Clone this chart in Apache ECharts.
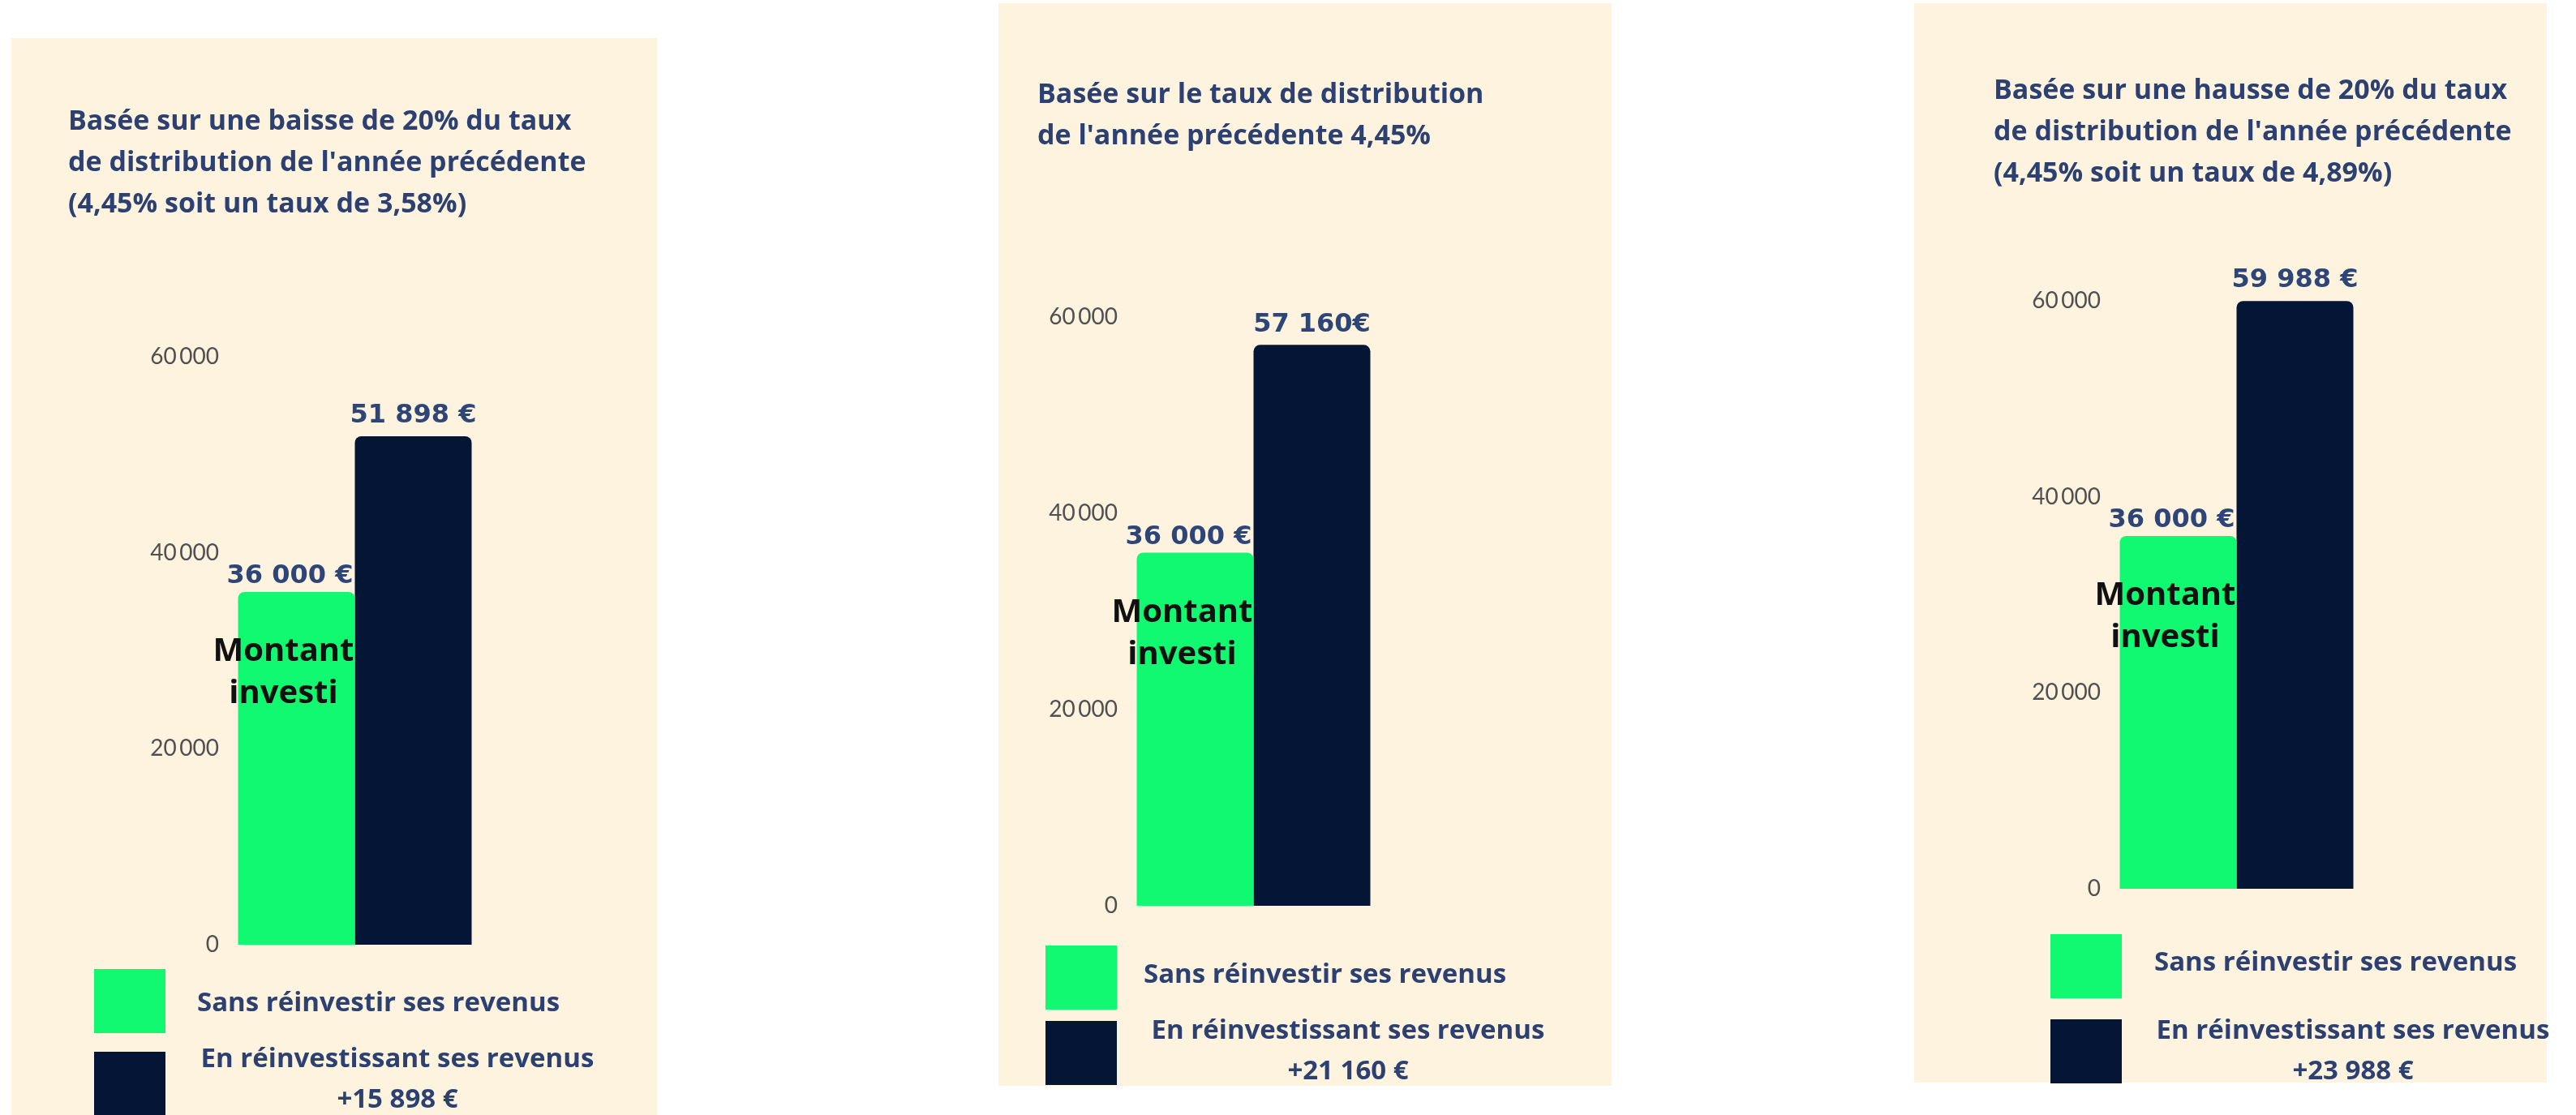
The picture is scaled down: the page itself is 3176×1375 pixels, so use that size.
<!DOCTYPE html>
<html>
<head>
<meta charset="utf-8">
<script src="https://cdn.jsdelivr.net/npm/echarts@6/dist/echarts.min.js"></script>
<style>
  html, body { margin: 0; padding: 0; background: #fff; }
  #chart { width: 3176px; height: 1375px; }
</style>
</head>
<body>
<div id="chart"></div>
<script>
  // --- data ---
  const titles = [
    "Basée sur une baisse de 20% du taux\nde distribution de l'année précédente\n(4,45% soit un taux de 3,58%)",
    "Basée sur le taux de distribution\nde l'année précédente 4,45%",
    "Basée sur une hausse de 20% du taux\nde distribution de l'année précédente\n(4,45% soit un taux de 4,89%)",
  ]
  const seriesNames = ['Sans réinvestir ses revenus', 'En réinvestissant ses revenus']
  const categories = ['Scénario']
  const invested = [36000, 36000, 36000]
  const reinvested = [51898, 57160, 59988]
  const euroGap = [' ', '', ' '] // as printed on the navy bars
  const yMin = 0
  const yMax = 60000
  const yStep = 20000
  const noteText = 'Montant\ninvesti'

  // --- styles / layout ---
  const GREEN = '#10f971'
  const NAVY = '#041536'
  const INK = '#2c4172'
  const CREAM = '#fef3de'
  const TXT_FONT = '"Open Sans", Lato, sans-serif'

  const panels = [
    { bg: [14, 47, 796, 1328], grid: { left: 293, top: 440, bottom: 210 }, title: [84, 125],
      sq: [116, 1195, 1297], sans: [243, 1238], en: [490, 1282] },
    { bg: [1231, 4, 756, 1335], grid: { left: 1401, top: 391, bottom: 258 }, title: [1279, 92],
      sq: [1289, 1166, 1259], sans: [1410, 1203], en: [1662, 1247] },
    { bg: [2360, 4, 780, 1331], grid: { left: 2613, top: 371, bottom: 279 }, title: [2458, 87],
      sq: [2528, 1152, 1257], sans: [2656, 1188], en: [2901, 1247] },
  ]

  function group(n, sep) {
    return String(n).replace(/\B(?=(\d{3})+(?!\d))/g, sep)
  }

  const valueLabel = {
    show: true,
    position: 'top',
    color: '#2d4677',
    fontFamily: '"DejaVu Sans", sans-serif',
    fontWeight: 'bold',
    fontSize: 32,
  }

  const option = {
    animation: false,
    backgroundColor: '#fff',
    title: [],
    grid: [],
    xAxis: [],
    yAxis: [],
    series: [],
    graphic: [],
  }

  panels.forEach((p, i) => {
    option.graphic.push({
      type: 'rect', z: -10, silent: true,
      shape: { x: p.bg[0], y: p.bg[1], width: p.bg[2], height: p.bg[3] },
      style: { fill: CREAM },
    })
    option.title.push({
      text: titles[i],
      left: p.title[0],
      top: p.title[1],
      padding: 0,
      textStyle: { color: INK, fontFamily: TXT_FONT, fontWeight: 'bold', fontSize: 34, lineHeight: 51 },
    })
    option.grid.push({ left: p.grid.left, top: p.grid.top, bottom: p.grid.bottom, width: 289, outerBoundsMode: 'none' })
    option.xAxis.push({ type: 'category', gridIndex: i, data: categories, show: false })
    option.yAxis.push({
      type: 'value', gridIndex: i, min: yMin, max: yMax, interval: yStep,
      splitLine: { show: false }, axisLine: { show: false }, axisTick: { show: false },
      axisLabel: {
        margin: 23, color: '#505050', fontFamily: 'Lato, sans-serif', fontSize: 28,
        formatter: (v) => group(v, '\u2009'),
      },
    })
    // green bar drawn above the navy one so its label stays visible
    option.series.push({
      name: seriesNames[0], type: 'bar', xAxisIndex: i, yAxisIndex: i, z: 3,
      data: [invested[i]], barWidth: 144, barGap: '0%',
      itemStyle: { color: GREEN, borderRadius: [8, 8, 0, 0] },
      label: { ...valueLabel, distance: 3, offset: [-8, 0], formatter: (d) => group(d.value, ' ') + ' €' },
      markPoint: {
        symbol: 'rect', symbolSize: 0, silent: true,
        data: [{ coord: [0, invested[i]] }],
        label: {
          show: true, position: 'inside', offset: [-16, 100], formatter: noteText,
          color: '#111', fontFamily: '"Open Sans", "Noto Sans", sans-serif', fontWeight: 'bold',
          fontSize: 40, lineHeight: 52, align: 'center',
        },
      },
    })
    option.series.push({
      name: seriesNames[1], type: 'bar', xAxisIndex: i, yAxisIndex: i, z: 2,
      data: [reinvested[i]], barWidth: 144, barGap: '0%',
      itemStyle: { color: NAVY, borderRadius: [8, 8, 0, 0] },
      label: { ...valueLabel, distance: 9, formatter: (d) => group(d.value, ' ') + euroGap[i] + '€' },
    })

    // legend blocks
    option.graphic.push(
      { type: 'rect', shape: { x: p.sq[0], y: p.sq[1], width: 88, height: 79 }, style: { fill: GREEN } },
      { type: 'rect', shape: { x: p.sq[0], y: p.sq[2], width: 88, height: 79 }, style: { fill: NAVY } },
      {
        type: 'text', x: p.sans[0], y: p.sans[1],
        style: {
          text: seriesNames[0], fill: INK, font: 'bold 33px ' + TXT_FONT,
          textAlign: 'left', textVerticalAlign: 'middle',
        },
      },
      {
        type: 'text', x: p.en[0], y: p.en[1],
        style: {
          text: seriesNames[1] + '\n+' + group(reinvested[i] - invested[i], ' ') + ' €',
          fill: INK, font: 'bold 33px ' + TXT_FONT, lineHeight: 50,
          textAlign: 'center', textVerticalAlign: 'top',
        },
      }
    )
  })

  const chart = echarts.init(document.getElementById('chart'))
  chart.setOption(option)
  window.addEventListener('resize', () => chart.resize())
</script>
</body>
</html>
